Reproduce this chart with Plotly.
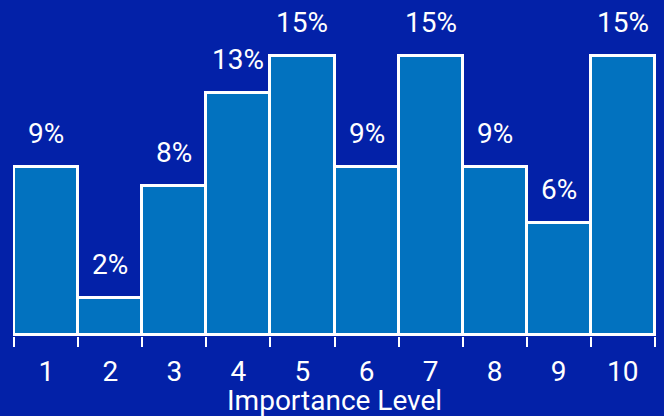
import plotly.graph_objects as go

# Share of responses per importance level
levels = ["1", "2", "3", "4", "5", "6", "7", "8", "9", "10"]
shares = [9, 2, 8, 13, 15, 9, 15, 9, 6, 15]
axis_title = "Importance Level"

BG = "#0321A8"
BAR = "#0272BF"
FONT = "Roboto"

fig = go.Figure(
    go.Bar(
        x=levels,
        y=shares,
        marker=dict(color=BAR, line=dict(color="white", width=3)),
        hoverinfo="skip",
    )
)

# Percentage labels sitting above each bar (category axis positions by index)
for i, val in enumerate(shares):
    fig.add_annotation(
        x=i, y=val, text=f"{val}%",
        showarrow=False, yanchor="bottom", yshift=15,
        font=dict(family=FONT, size=28, color="white"),
    )

fig.add_annotation(
    x=0.5, y=-0.248, xref="paper", yref="paper",
    text=axis_title, showarrow=False, yanchor="bottom",
    font=dict(family=FONT, size=28, color="white"),
)

px_per_unit = 335 / 17.99
fig.update_layout(
    width=664, height=416,
    margin=dict(l=13, r=8, t=0, b=80),
    paper_bgcolor=BG, plot_bgcolor=BG,
    bargap=0,
    showlegend=False,
    font=dict(family=FONT, color="white"),
    xaxis=dict(
        type="category",
        range=[-0.52, 9.52],
        tickson="boundaries",
        ticks="outside", ticklen=10, tickwidth=2, tickcolor="white",
        ticklabelstandoff=16,
        tickfont=dict(family=FONT, size=28, color="white"),
        showgrid=False, showline=False, zeroline=False,
        fixedrange=True,
    ),
    yaxis=dict(
        range=[-1 / px_per_unit, 335 / px_per_unit],
        visible=False, showgrid=False, zeroline=False,
        fixedrange=True,
    ),
)

fig.write_html("out.html")
